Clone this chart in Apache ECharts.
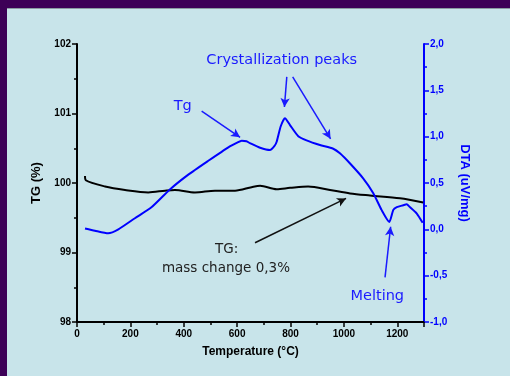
<!DOCTYPE html>
<html>
<head>
<meta charset="utf-8">
<script src="https://cdn.jsdelivr.net/npm/echarts@6/dist/echarts.min.js"></script>
<style>
  html, body { margin: 0; padding: 0; background: #c8e4ea; }
  #chart { width: 510px; height: 376px; }
</style>
</head>
<body>
<div id="chart"></div>
<script>
// DTA curve (right axis, uV/mg)
const dtaTemp = [30, 67, 117, 155, 217, 280, 348, 417, 492, 567, 600, 617, 635, 648, 686, 723, 740, 748, 763, 779, 798, 829, 860, 910, 960, 985, 1023, 1072, 1110, 1141, 1170, 1185, 1198, 1222, 1235, 1247, 1273, 1295]
const dtaValues = [0.01, -0.015, -0.043, 0.0, 0.12, 0.24, 0.43, 0.59, 0.74, 0.885, 0.935, 0.955, 0.95, 0.93, 0.88, 0.855, 0.9, 0.945, 1.11, 1.2, 1.125, 1.005, 0.96, 0.91, 0.87, 0.82, 0.71, 0.55, 0.39, 0.21, 0.08, 0.21, 0.24, 0.26, 0.27, 0.24, 0.17, 0.07]

// TG curve (left axis, %)
const tgTemp = [30, 33, 105, 180, 267, 330, 367, 442, 517, 592, 654, 686, 748, 798, 866, 948, 1023, 1098, 1210, 1297]
const tgValues = [100.1, 100.04, 99.95, 99.9, 99.865, 99.89, 99.9, 99.865, 99.89, 99.89, 99.94, 99.96, 99.91, 99.93, 99.95, 99.9, 99.85, 99.82, 99.78, 99.72]

// annotations, in (temperature, DTA) coordinates
const noteTexts = ['Crystallization peaks', 'Tg', 'TG:', 'mass change 0,3%', 'Melting']
const notePos = [[767, 1.82], [396, 1.33], [561, -0.223], [558, -0.428], [1125, -0.727]]
const noteColors = ['#1a1aff', '#1a1aff', '#222', '#222', '#1a1aff']

const arrowFrom = [[467, 1.276], [786, 1.645], [808, 1.645], [667, -0.145], [1154, -0.518]]
const arrowTo = [[611, 0.993], [777, 1.32], [950, 0.977], [1008, 0.334], [1175, 0.028]]
const arrowColors = ['#1a1aff', '#1a1aff', '#1a1aff', '#111', '#1a1aff']

const BLUE = '#0000ff'
const comma = v => v.toFixed(1).replace('.', ',')

const chartDom = document.getElementById('chart')
const myChart = echarts.init(chartDom)

const option = {
  animation: false,
  backgroundColor: '#c8e4ea',
  grid: { left: 77, right: 86, top: 44, bottom: 54 },
  xAxis: {
    type: 'value',
    min: 0,
    max: 1300,
    interval: 200,
    name: 'Temperature (°C)',
    nameLocation: 'middle',
    nameGap: 24,
    nameTextStyle: { color: '#000', fontFamily: 'Liberation Sans', fontWeight: 'bold', fontSize: 12 },
    axisLine: { show: true, onZero: false, lineStyle: { color: '#000', width: 2 } },
    axisTick: { show: true, length: 5, lineStyle: { width: 1.5 } },
    minorTick: { show: true, splitNumber: 2, length: 3, lineStyle: { color: '#000', width: 1.5 } },
    splitLine: { show: false },
    axisLabel: {
      showMaxLabel: false,
      margin: 7,
      color: '#000',
      fontFamily: 'Liberation Sans',
      fontWeight: 'bold',
      fontSize: 10,
      formatter: v => String(v)
    }
  },
  yAxis: [
    {
      type: 'value',
      position: 'left',
      min: 98,
      max: 102,
      interval: 1,
      name: 'TG (%)',
      nameLocation: 'middle',
      nameGap: 33,
      nameTextStyle: { color: '#000', fontFamily: 'Liberation Sans', fontWeight: 'bold', fontSize: 13 },
      axisLine: { show: true, onZero: false, lineStyle: { color: '#000', width: 2 } },
      axisTick: { show: true, length: 5, lineStyle: { width: 1.5 } },
      minorTick: { show: true, splitNumber: 2, length: 3, lineStyle: { color: '#000', width: 1.5 } },
      splitLine: { show: false },
      axisLabel: { margin: 6, color: '#000', fontFamily: 'Liberation Sans', fontWeight: 'bold', fontSize: 10 }
    },
    {
      type: 'value',
      position: 'right',
      min: -1,
      max: 2,
      interval: 0.5,
      name: 'DTA (uV/mg)',
      nameLocation: 'middle',
      nameRotate: -90,
      nameGap: 33,
      nameTextStyle: { color: BLUE, fontFamily: 'Liberation Sans', fontWeight: 'bold', fontSize: 13 },
      axisLine: { show: true, onZero: false, lineStyle: { color: BLUE, width: 2 } },
      axisTick: { show: true, length: 5, lineStyle: { width: 1.5 } },
      minorTick: { show: true, splitNumber: 2, length: 3, lineStyle: { color: BLUE, width: 1.5 } },
      splitLine: { show: false },
      axisLabel: { margin: 6, color: BLUE, fontFamily: 'Liberation Sans', fontWeight: 'bold', fontSize: 10, formatter: comma }
    }
  ],
  series: [
    {
      name: 'TG',
      type: 'line',
      yAxisIndex: 0,
      showSymbol: false,
      smooth: 0.3,
      lineStyle: { color: '#000', width: 2 },
      emphasis: { disabled: true },
      data: tgTemp.map((t, i) => [t, tgValues[i]])
    },
    {
      name: 'DTA',
      type: 'line',
      yAxisIndex: 1,
      showSymbol: false,
      smooth: 0.2,
      lineStyle: { color: BLUE, width: 2 },
      emphasis: { disabled: true },
      data: dtaTemp.map((t, i) => [t, dtaValues[i]]),
      markLine: {
        silent: true,
        symbol: ['none', 'arrow'],
        symbolSize: [7, 9],
        label: { show: false },
        emphasis: { disabled: true },
        data: arrowFrom.map((p, i) => [
          { coord: p, lineStyle: { color: arrowColors[i], width: 1.5, type: 'solid' } },
          { coord: arrowTo[i] }
        ])
      }
    }
  ]
}

myChart.setOption(option)

// border strips and annotation texts
const graphics = [
  { type: 'rect', shape: { x: 0, y: 0, width: 510, height: 8 }, style: { fill: '#3d0057' } },
  { type: 'rect', shape: { x: 0, y: 0, width: 7, height: 376 }, style: { fill: '#3d0057' } },
  { type: 'line', shape: { x1: 7, y1: 8.5, x2: 510, y2: 8.5 }, style: { stroke: '#8a9ca2', lineWidth: 1 } }
]
noteTexts.forEach((txt, i) => {
  const [px, py] = myChart.convertToPixel({ xAxisIndex: 0, yAxisIndex: 1 }, notePos[i])
  graphics.push({
    type: 'text',
    x: px,
    y: py,
    style: {
      text: txt,
      fill: noteColors[i],
      fontFamily: 'DejaVu Sans',
      fontSize: noteColors[i] === '#222' ? 13.5 : 14.5,
      align: 'center',
      verticalAlign: 'middle'
    }
  })
})
myChart.setOption({ graphic: graphics })
</script>
</body>
</html>
